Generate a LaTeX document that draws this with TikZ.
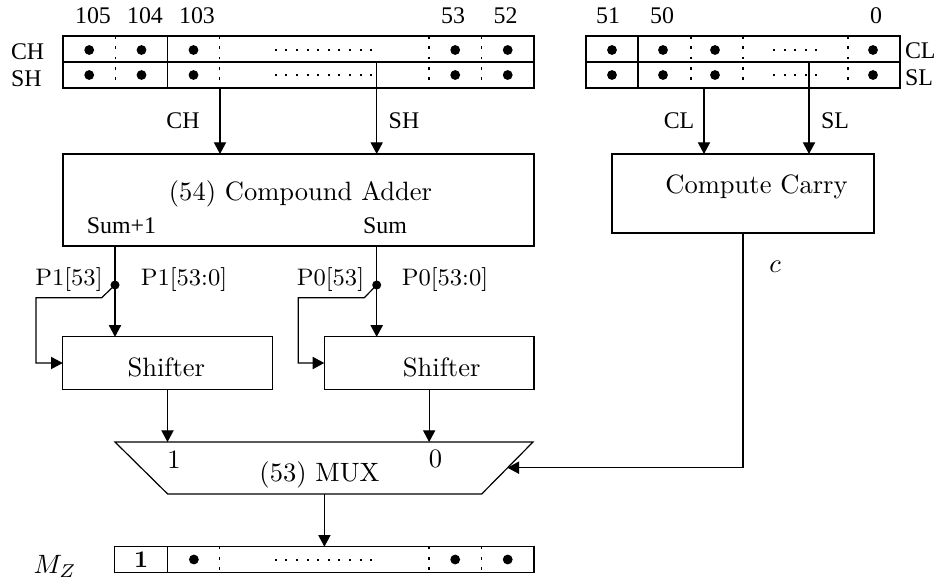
\documentclass[tikz,border=0pt]{standalone}
\usepackage{fontspec}
\newfontfamily\tms{Liberation Serif}
\usetikzlibrary{arrows.meta}
\def\pxu{0.377pt}
\begin{document}
\begin{tikzpicture}[x=0.377pt, y=-0.377pt, line width=0.45pt,
  box/.style={draw, inner sep=0pt, outer sep=0pt},
  tlbl/.style={inner sep=0pt, outer sep=0pt, font=\tms\fontsize{9}{10}\selectfont},
  txt/.style={inner sep=0pt, outer sep=0pt},
  small/.style={inner sep=0pt, outer sep=0pt, font=\fontsize{9}{11}\selectfont},
  arr/.style={-{Triangle[length=4.4pt,width=4.6pt]}},
  sep/.style={dash pattern=on 1pt off 2.9pt},
  ell/.style={line width=0.75pt, dash pattern=on 0.75pt off 3.25pt},
]
\useasboundingbox (0,0) rectangle (944,581);

% ---------- high-order register (bits 105 .. 52)
\node[box, minimum width=471*\pxu, minimum height=52*\pxu] (hreg) at (298.5,62) {};
\draw (hreg.west) -- (hreg.east);
\draw (167.7,36) -- (167.7,88);
\foreach \x in {115.4,219.4,429,481.5} \draw[sep] (\x,36) -- (\x,88);
\foreach \x in {89.2,141.5,193.5,455.2,507.7} {
  \fill (\x,50) circle[radius=1.85pt];
  \fill (\x,75) circle[radius=1.85pt];
}
\draw[ell] (274.8,50) -- (372,50);
\draw[ell] (274.8,75) -- (372,75);
\node[tlbl, anchor=base] (b105) at (93,23.3) {105};
\node[tlbl, anchor=base] (b104) at (145,23.3) {104};
\node[tlbl, anchor=base] (b103) at (197,23.3) {103};
\node[tlbl, anchor=base] (b53) at (453,23.3) {53};
\node[tlbl, anchor=base] (b52) at (505.5,23.3) {52};
\node[tlbl, anchor=base west] (chname) at (11,59.5) {CH};
\node[tlbl, anchor=base west] (shname) at (11,86) {SH};

% ---------- low-order register (bits 51 .. 0)
\node[box, minimum width=314*\pxu, minimum height=52*\pxu] (lreg) at (743,62) {};
\draw (lreg.west) -- (lreg.east);
\draw (638,36) -- (638,88);
\foreach \x in {691,743,848} \draw[sep] (\x,36) -- (\x,88);
\foreach \x in {612,663,715,873} {
  \fill (\x,50) circle[radius=1.85pt];
  \fill (\x,75) circle[radius=1.85pt];
}
\draw[ell] (773,50) -- (818,50);
\draw[ell] (773,75) -- (818,75);
\node[tlbl, anchor=base] (b51) at (608,23.3) {51};
\node[tlbl, anchor=base] (b50) at (662,23.3) {50};
\node[tlbl, anchor=base] (b0) at (876,23.3) {0};
\node[tlbl, anchor=base west] (clname) at (905,58.5) {CL};
\node[tlbl, anchor=base west] (slname) at (905,85) {SL};

% ---------- adder and carry logic
\node[box, minimum width=471*\pxu, minimum height=92*\pxu] (adder) at (298.5,200) {};
\node[txt, anchor=base] (addertxt) at (300.5,200) {(54) Compound Adder};
\node[tlbl, anchor=base] (sum1) at (121.5,233) {Sum+1};
\node[tlbl, anchor=base] (sum0) at (385,233) {Sum};

\node[box, minimum width=262*\pxu, minimum height=79*\pxu] (carry) at (743,193.5) {};
\node[txt, anchor=base] (carrytxt) at (756.5,193) {Compute Carry};

\coordinate (chx) at (220,0);
\coordinate (shx) at (376.7,0);
\coordinate (clx) at (704,0);
\coordinate (slx) at (809,0);
\draw[arr] (chx |- hreg.south) -- (chx |- adder.north);
\draw[arr] (shx |- hreg.center) -- (shx |- adder.north);
\draw[arr] (clx |- lreg.south) -- (clx |- carry.north);
\draw[arr] (slx |- lreg.center) -- (slx |- carry.north);
\node[tlbl, anchor=base] (chin) at (183,128) {CH};
\node[tlbl, anchor=base] (shin) at (404,128) {SH};
\node[tlbl, anchor=base] (clin) at (679,128) {CL};
\node[tlbl, anchor=base] (slin) at (835,128) {SL};

% ---------- shifters
\node[box, minimum width=209.6*\pxu, minimum height=52.3*\pxu] (sh1) at (167.5,363) {};
\node[box, minimum width=209.7*\pxu, minimum height=52.3*\pxu] (sh2) at (429.15,363) {};
\node[txt, anchor=base] (sh1txt) at (166.3,376.7) {Shifter};
\node[txt, anchor=base] (sh2txt) at (441.7,376.7) {Shifter};

\coordinate (j1) at (115,285);
\coordinate (j2) at (376.7,285);
\draw[arr] (j1 |- adder.south) -- (j1 |- sh1.north);
\draw[arr] (j2 |- adder.south) -- (j2 |- sh2.north);
\fill (j1) circle[radius=1.7pt];
\fill (j2) circle[radius=1.7pt];
\draw[arr] (j1) -- ++(-13.3,12.7) -| ([xshift=-26.7*\pxu]sh1.west) -- (sh1.west);
\draw[arr] (j2) -- ++(-12.4,12.7) -| ([xshift=-26*\pxu]sh2.west) -- (sh2.west);
\node[small, anchor=base] (p1h) at (69,285) {P1[53]};
\node[small, anchor=base] (p1a) at (184,285) {P1[53:0]};
\node[small, anchor=base] (p0h) at (330.5,285) {P0[53]};
\node[small, anchor=base] (p0a) at (445,285) {P0[53:0]};

% ---------- multiplexer
\coordinate (muxTL) at (115,442);
\coordinate (muxTR) at (533,442);
\coordinate (muxBR) at (481.7,494);
\coordinate (muxBL) at (167.7,494);
\coordinate (muxsel) at (507.4,467.7);
\coordinate (muxout) at (324.4,494);
\draw (muxTL) -- (muxTR) -- (muxBR) -- (muxBL) -- cycle;
\node[txt, anchor=base] (mux1) at (174,468) {1};
\node[txt, anchor=base] (mux0) at (435.5,467) {0};
\node[txt, anchor=base] (muxtxt) at (319.5,481) {(53) MUX};
\draw[arr] (sh1.south) -- (sh1.south |- muxTL);
\draw[arr] (sh2.south) -- (sh2.south |- muxTL);
\draw[arr] (carry.south) |- (muxsel);
\node[txt] (cname) at (775,267) {$c$};

% ---------- result register
\node[box, minimum width=419.3*\pxu, minimum height=25.6*\pxu] (mreg) at (324.35,559.5) {};
\draw[arr] (muxout) -- (muxout |- mreg.north);
\draw (167.7,546.7) -- (167.7,572.3);
\foreach \x in {219.4,429,481.4} \draw[sep] (\x,546.7) -- (\x,572.3);
\foreach \x in {193.9,455.2,507.7} \fill (\x,559.5) circle[radius=1.85pt];
\draw[ell] (274.8,559.5) -- (372,559.5);
\node[txt] (mone) at (141.2,559.5) {\small\bfseries 1};
\node[txt] (mzname) at (55,566) {$M_Z$};
\end{tikzpicture}
\end{document}
